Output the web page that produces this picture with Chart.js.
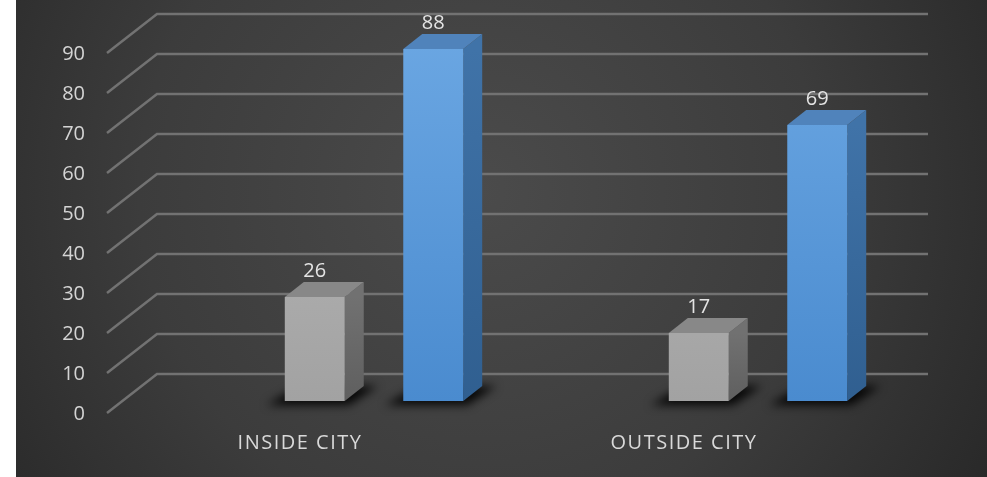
<!DOCTYPE html>
<html>
<head>
<meta charset="utf-8">
<script src="https://cdn.jsdelivr.net/npm/chart.js@4"></script>
<style>
  html, body { margin: 0; padding: 0; background: #fff; }
  #wrap { width: 987px; height: 477px; }
</style>
</head>
<body>
<div id="wrap"><canvas id="chart" width="987" height="477"></canvas></div>
<script>
const categories = ['INSIDE CITY', 'OUTSIDE CITY']
const grayValues = [26, 17]
const blueValues = [88, 69]
const yMin = 0
const yMax = 90
const yStep = 10

// depth of the fake 3d bars
const DX = 19
const DY = -15

const faces = [
  { front: ['#bdbdbd', '#a2a2a2'], side: ['#717171', '#5f5f5f'], top: '#888888' },
  { front: ['#6aa6e2', '#4a8bcf'], side: ['#4073a8', '#305f90'], top: '#5083bb' }
]

function frontColor(ctx) {
  const chart = ctx.chart
  const area = chart.chartArea
  const f = faces[ctx.datasetIndex].front
  if (!area) return f[1]
  const g = chart.ctx.createLinearGradient(0, area.top, 0, area.bottom)
  g.addColorStop(0, f[0])
  g.addColorStop(1, f[1])
  return g
}

const scene = {
  id: 'scene',
  beforeDraw(chart) {
    const c = chart.ctx
    c.save()
    c.fillStyle = '#ffffff'
    c.fillRect(0, 0, chart.width, chart.height)
    const g = c.createRadialGradient(480, 190, 0, 480, 190, 620)
    g.addColorStop(0, '#4b4b4b')
    g.addColorStop(0.55, '#3c3c3c')
    g.addColorStop(1, '#262626')
    c.fillStyle = g
    c.fillRect(16, 0, chart.width - 16, chart.height)
    c.restore()
  },
  beforeDatasetsDraw(chart) {
    const c = chart.ctx
    const y = chart.scales.y
    // perspective gridlines: front edge, slanted floor, back wall
    c.save()
    c.strokeStyle = '#727272'
    c.lineWidth = 2.5
    for (let v = yMin; v <= yMax; v += yStep) {
      const py = y.getPixelForValue(v)
      c.beginPath()
      c.moveTo(107, py + 12)
      c.lineTo(157, py - 27)
      c.lineTo(928, py - 27)
      c.stroke()
    }
    // shadows under the bars
    c.filter = 'blur(5px)'
    c.fillStyle = 'rgba(0,0,0,0.9)'
    chart.data.datasets.forEach((ds, i) => {
      chart.getDatasetMeta(i).data.forEach(bar => {
        const l = bar.x - bar.width / 2
        const r = bar.x + bar.width / 2
        const b = bar.base
        c.beginPath()
        c.moveTo(l - 18, b + 4)
        c.lineTo(r + 4, b + 4)
        c.lineTo(r + DX + 14, b + DY)
        c.lineTo(l + DX - 4, b + DY)
        c.closePath()
        c.fill()
      })
    })
    c.filter = 'none'
    // side and top faces
    chart.data.datasets.forEach((ds, i) => {
      const f = faces[i]
      chart.getDatasetMeta(i).data.forEach(bar => {
        const l = bar.x - bar.width / 2
        const r = bar.x + bar.width / 2
        const t = bar.y
        const b = bar.base
        const sg = c.createLinearGradient(0, t, 0, b)
        sg.addColorStop(0, f.side[0])
        sg.addColorStop(1, f.side[1])
        c.fillStyle = sg
        c.beginPath()
        c.moveTo(r, t)
        c.lineTo(r + DX, t + DY)
        c.lineTo(r + DX, b + DY)
        c.lineTo(r, b)
        c.closePath()
        c.fill()
        c.fillStyle = f.top
        c.beginPath()
        c.moveTo(l, t)
        c.lineTo(l + DX, t + DY)
        c.lineTo(r + DX, t + DY)
        c.lineTo(r, t)
        c.closePath()
        c.fill()
      })
    })
    c.restore()
  },
  afterDatasetsDraw(chart) {
    const c = chart.ctx
    c.save()
    c.font = '20px "Open Sans"'
    c.fillStyle = '#e4e4e4'
    c.textAlign = 'center'
    c.textBaseline = 'middle'
    chart.data.datasets.forEach((ds, i) => {
      chart.getDatasetMeta(i).data.forEach((bar, j) => {
        c.fillText(String(ds.data[j]), bar.x, bar.y - 26)
      })
    })
    // category labels, spaced out like the original
    const x = chart.scales.x
    c.fillStyle = '#d9d9d9'
    c.letterSpacing = '1.5px'
    categories.forEach((cat, i) => {
      c.fillText(cat, x.getPixelForValue(i) - 74, 443)
    })
    c.restore()
  }
}

new Chart(document.getElementById('chart'), {
  type: 'bar',
  data: {
    labels: categories,
    datasets: [
      { label: 'gray', data: grayValues, backgroundColor: frontColor },
      { label: 'blue', data: blueValues, backgroundColor: frontColor }
    ]
  },
  options: {
    responsive: false,
    animation: false,
    events: [],
    categoryPercentage: 0.617,
    barPercentage: 0.506,
    layout: { padding: { top: 41, right: 37, left: 0, bottom: 0 } },
    plugins: { legend: { display: false }, tooltip: { enabled: false } },
    scales: {
      x: {
        grid: { display: false },
        border: { display: false },
        ticks: { display: false },
        afterFit(s) { s.height = 76 }
      },
      y: {
        min: yMin,
        max: yMax,
        grid: { display: false, drawTicks: false },
        border: { display: false },
        ticks: {
          stepSize: yStep,
          padding: 97,
          labelOffset: 13,
          color: '#d4d4d4',
          font: { family: 'Open Sans', size: 20 }
        },
        afterFit(s) {
          s.width = 182
          s.paddingTop = 0
          s.paddingBottom = 0
        }
      }
    }
  },
  plugins: [scene]
})
</script>
</body>
</html>
